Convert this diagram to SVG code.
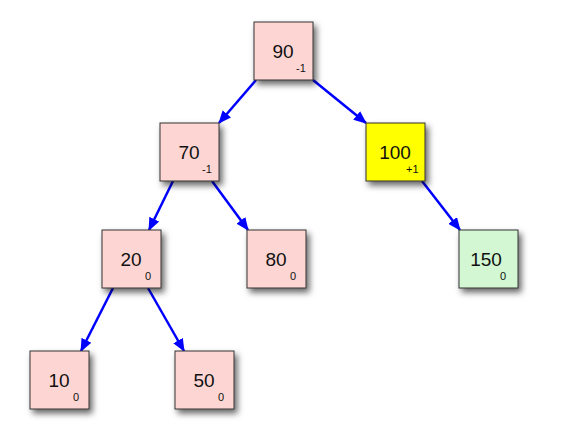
<svg xmlns="http://www.w3.org/2000/svg" width="562" height="435" viewBox="0 0 562 435">
<style>
.box{stroke:#333;stroke-width:1;filter:url(#sh)}
.pink{fill:#fdd6d4}
.yellow{fill:#ffff00}
.green{fill:#d2f7d2}
.num{font-family:"Liberation Sans",Arial,sans-serif;font-size:19px;fill:#111;text-anchor:middle}
.sub{font-family:"Liberation Sans",Arial,sans-serif;font-size:11px;fill:#111}
.edge{stroke:#0000ff;stroke-width:2.5;fill:none;marker-end:url(#ah)}
</style>
<defs>
<filter id="sh" x="-20%" y="-20%" width="150%" height="150%">
<feDropShadow dx="3" dy="4" stdDeviation="3" flood-color="#000" flood-opacity="0.6"/>
</filter>
<marker id="ah" markerUnits="userSpaceOnUse" markerWidth="13" markerHeight="11" refX="12" refY="5.5" orient="auto">
<path d="M0,0 L13,5.5 L0,11 z" fill="#0000ff"/>
</marker>
</defs>
<rect width="562" height="435" fill="#fff"/>
<g id="connectors">
<line class="edge" x1="256" y1="80" x2="219" y2="123"/>
<line class="edge" x1="313" y1="80" x2="366" y2="123"/>
<line class="edge" x1="173" y1="181" x2="149" y2="230"/>
<line class="edge" x1="212" y1="181" x2="248" y2="230"/>
<line class="edge" x1="422" y1="181" x2="460" y2="230"/>
<line class="edge" x1="113" y1="288" x2="81" y2="351"/>
<line class="edge" x1="148" y1="288" x2="184" y2="351"/>
</g>
<g id="n90"><rect class="box pink" x="254" y="22" width="59" height="58"/><text class="num" x="283" y="58">90</text><text class="sub" x="296" y="72">-1</text></g>
<g id="n70"><rect class="box pink" x="160" y="123" width="59" height="58"/><text class="num" x="189" y="159">70</text><text class="sub" x="202" y="173">-1</text></g>
<g id="n100"><rect class="box yellow" x="366" y="123" width="59" height="58"/><text class="num" x="395" y="159">100</text><text class="sub" x="406" y="173">+1</text></g>
<g id="n20"><rect class="box pink" x="102" y="230" width="59" height="58"/><text class="num" x="131" y="266">20</text><text class="sub" x="145" y="280">0</text></g>
<g id="n80"><rect class="box pink" x="247" y="230" width="59" height="58"/><text class="num" x="276" y="266">80</text><text class="sub" x="290" y="280">0</text></g>
<g id="n150"><rect class="box green" x="459" y="230" width="59" height="58"/><text class="num" x="486" y="266">150</text><text class="sub" x="500" y="280">0</text></g>
<g id="n10"><rect class="box pink" x="30" y="351" width="59" height="58"/><text class="num" x="59" y="387">10</text><text class="sub" x="73" y="401">0</text></g>
<g id="n50"><rect class="box pink" x="175" y="351" width="59" height="58"/><text class="num" x="204" y="387">50</text><text class="sub" x="218" y="401">0</text></g>
</svg>
